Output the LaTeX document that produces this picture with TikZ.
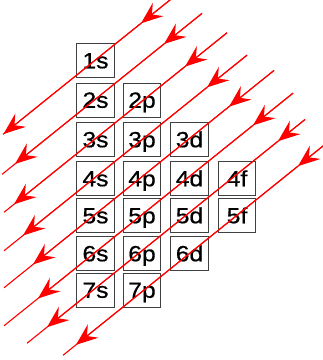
\documentclass[tikz,border=0pt]{standalone}
\usepackage{fontspec}
\setmainfont{Liberation Sans}
\newfontfamily\orbfont{Liberation Sans}[FakeBold=0.7,FakeStretch=1.12]
\usetikzlibrary{arrows.meta}
\begin{document}
\begin{tikzpicture}[x=1pt,y=-1pt,
  orb/.style={draw=black!75, line width=1pt, minimum width=37.5pt,
    minimum height=34pt, inner sep=0pt, text height=15.5pt, text depth=0pt,
    font=\orbfont\fontsize{22}{24}\selectfont},
  ray/.style={draw=red, line width=1.1pt},
  head/.style={ray, -{Stealth[length=22pt,width=17pt,inset=8pt]}}]
\useasboundingbox (0,0) rectangle (323,360);
\clip (0,0) rectangle (323,360);

% subshell boxes
\node[orb] (o1s) at (95.5,60.5) {1s};
\node[orb] (o2s) at (95.5,100) {2s};
\node[orb] (o2p) at (142,100) {2p};
\node[orb] (o3s) at (95.5,139.5) {3s};
\node[orb] (o3p) at (142,139.5) {3p};
\node[orb] (o3d) at (189.5,139.5) {3d};
\node[orb] (o4s) at (95.5,178.5) {4s};
\node[orb] (o4p) at (142,178.5) {4p};
\node[orb] (o4d) at (189.5,178.5) {4d};
\node[orb] (o4f) at (237,178.5) {4f};
\node[orb] (o5s) at (95.5,215.5) {5s};
\node[orb] (o5p) at (142,215.5) {5p};
\node[orb] (o5d) at (189.5,215.5) {5d};
\node[orb] (o5f) at (237,215.5) {5f};
\node[orb] (o6s) at (95.5,253.5) {6s};
\node[orb] (o6p) at (142,253.5) {6p};
\node[orb] (o6d) at (189.5,253.5) {6d};
\node[orb] (o7s) at (95.5,290) {7s};
\node[orb] (o7p) at (142,290) {7p};

% filling-order diagonals: start, upper head, lower head, end
\foreach \k/\c/\xs/\xa/\xb/\xe in {
    1/136.8/181/141/3.5/3,
    2/176/202/164/15/2,
    3/215.5/227/185/14/4,
    4/254/247/207/23/4,
    5/291/274/229/33/4,
    6/329/293/253/38/4,
    7/365/305/278/47/27,
    8/406/335/298/76/63} {
  \coordinate (s\k) at (\xs,{\c-0.805*\xs});
  \coordinate (a\k) at (\xa,{\c-0.805*\xa});
  \coordinate (b\k) at (\xb,{\c-0.805*\xb});
  \coordinate (e\k) at (\xe,{\c-0.805*\xe});
  \draw[ray] (s\k) -- (e\k);
  \draw[head] (s\k) -- (a\k);
  \draw[head] (a\k) -- (b\k);
}
\end{tikzpicture}
\end{document}
